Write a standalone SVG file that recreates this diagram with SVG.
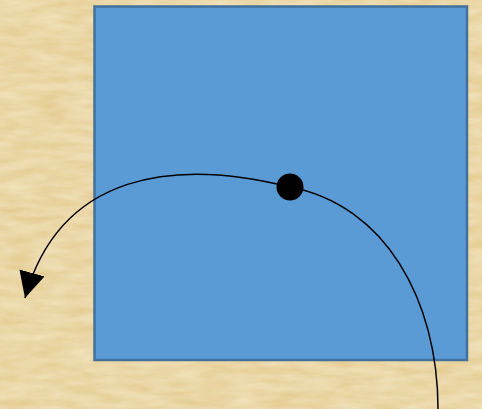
<svg xmlns="http://www.w3.org/2000/svg" width="482" height="409" viewBox="0 0 482 409">
<defs>
<filter id="paper" x="0" y="0" width="100%" height="100%">
<feTurbulence type="fractalNoise" baseFrequency="0.03 0.12" numOctaves="3" seed="4" result="n"/>
<feColorMatrix in="n" type="matrix" values="0 0 0 0 0.95  0 0 0 0 0.87  0 0 0 0 0.66  0 0 0 -1.2 1.0" result="c"/>
<feComposite in="c" in2="SourceGraphic" operator="atop"/>
</filter>
<marker id="arrow" markerUnits="userSpaceOnUse" markerWidth="27" markerHeight="27" refX="26" refY="13" orient="auto" viewBox="0 0 27 27">
<path d="M0,0 L26,13 L0,26 z" fill="#000"/>
</marker>
<style>
.node{fill:#5b9bd5;stroke:#41719c;stroke-width:2.5}
.edge{fill:none;stroke:#000;stroke-width:1.5}
</style>
</defs>
<rect x="0" y="0" width="482" height="409" fill="#e5cd92"/>
<rect x="0" y="0" width="482" height="409" fill="#e5cd92" filter="url(#paper)" opacity="0.7"/>
<g id="square">
<rect class="node" x="94.5" y="6.5" width="372.5" height="353.5"/>
</g>
<g id="connectors">
<path class="edge" d="M438,409 C438,300 385,205 290,187 C175,158 60,172 25,298" marker-end="url(#arrow)"/>
</g>
<g id="dot">
<circle cx="290" cy="187" r="13.5" fill="#000"/>
</g>
</svg>
